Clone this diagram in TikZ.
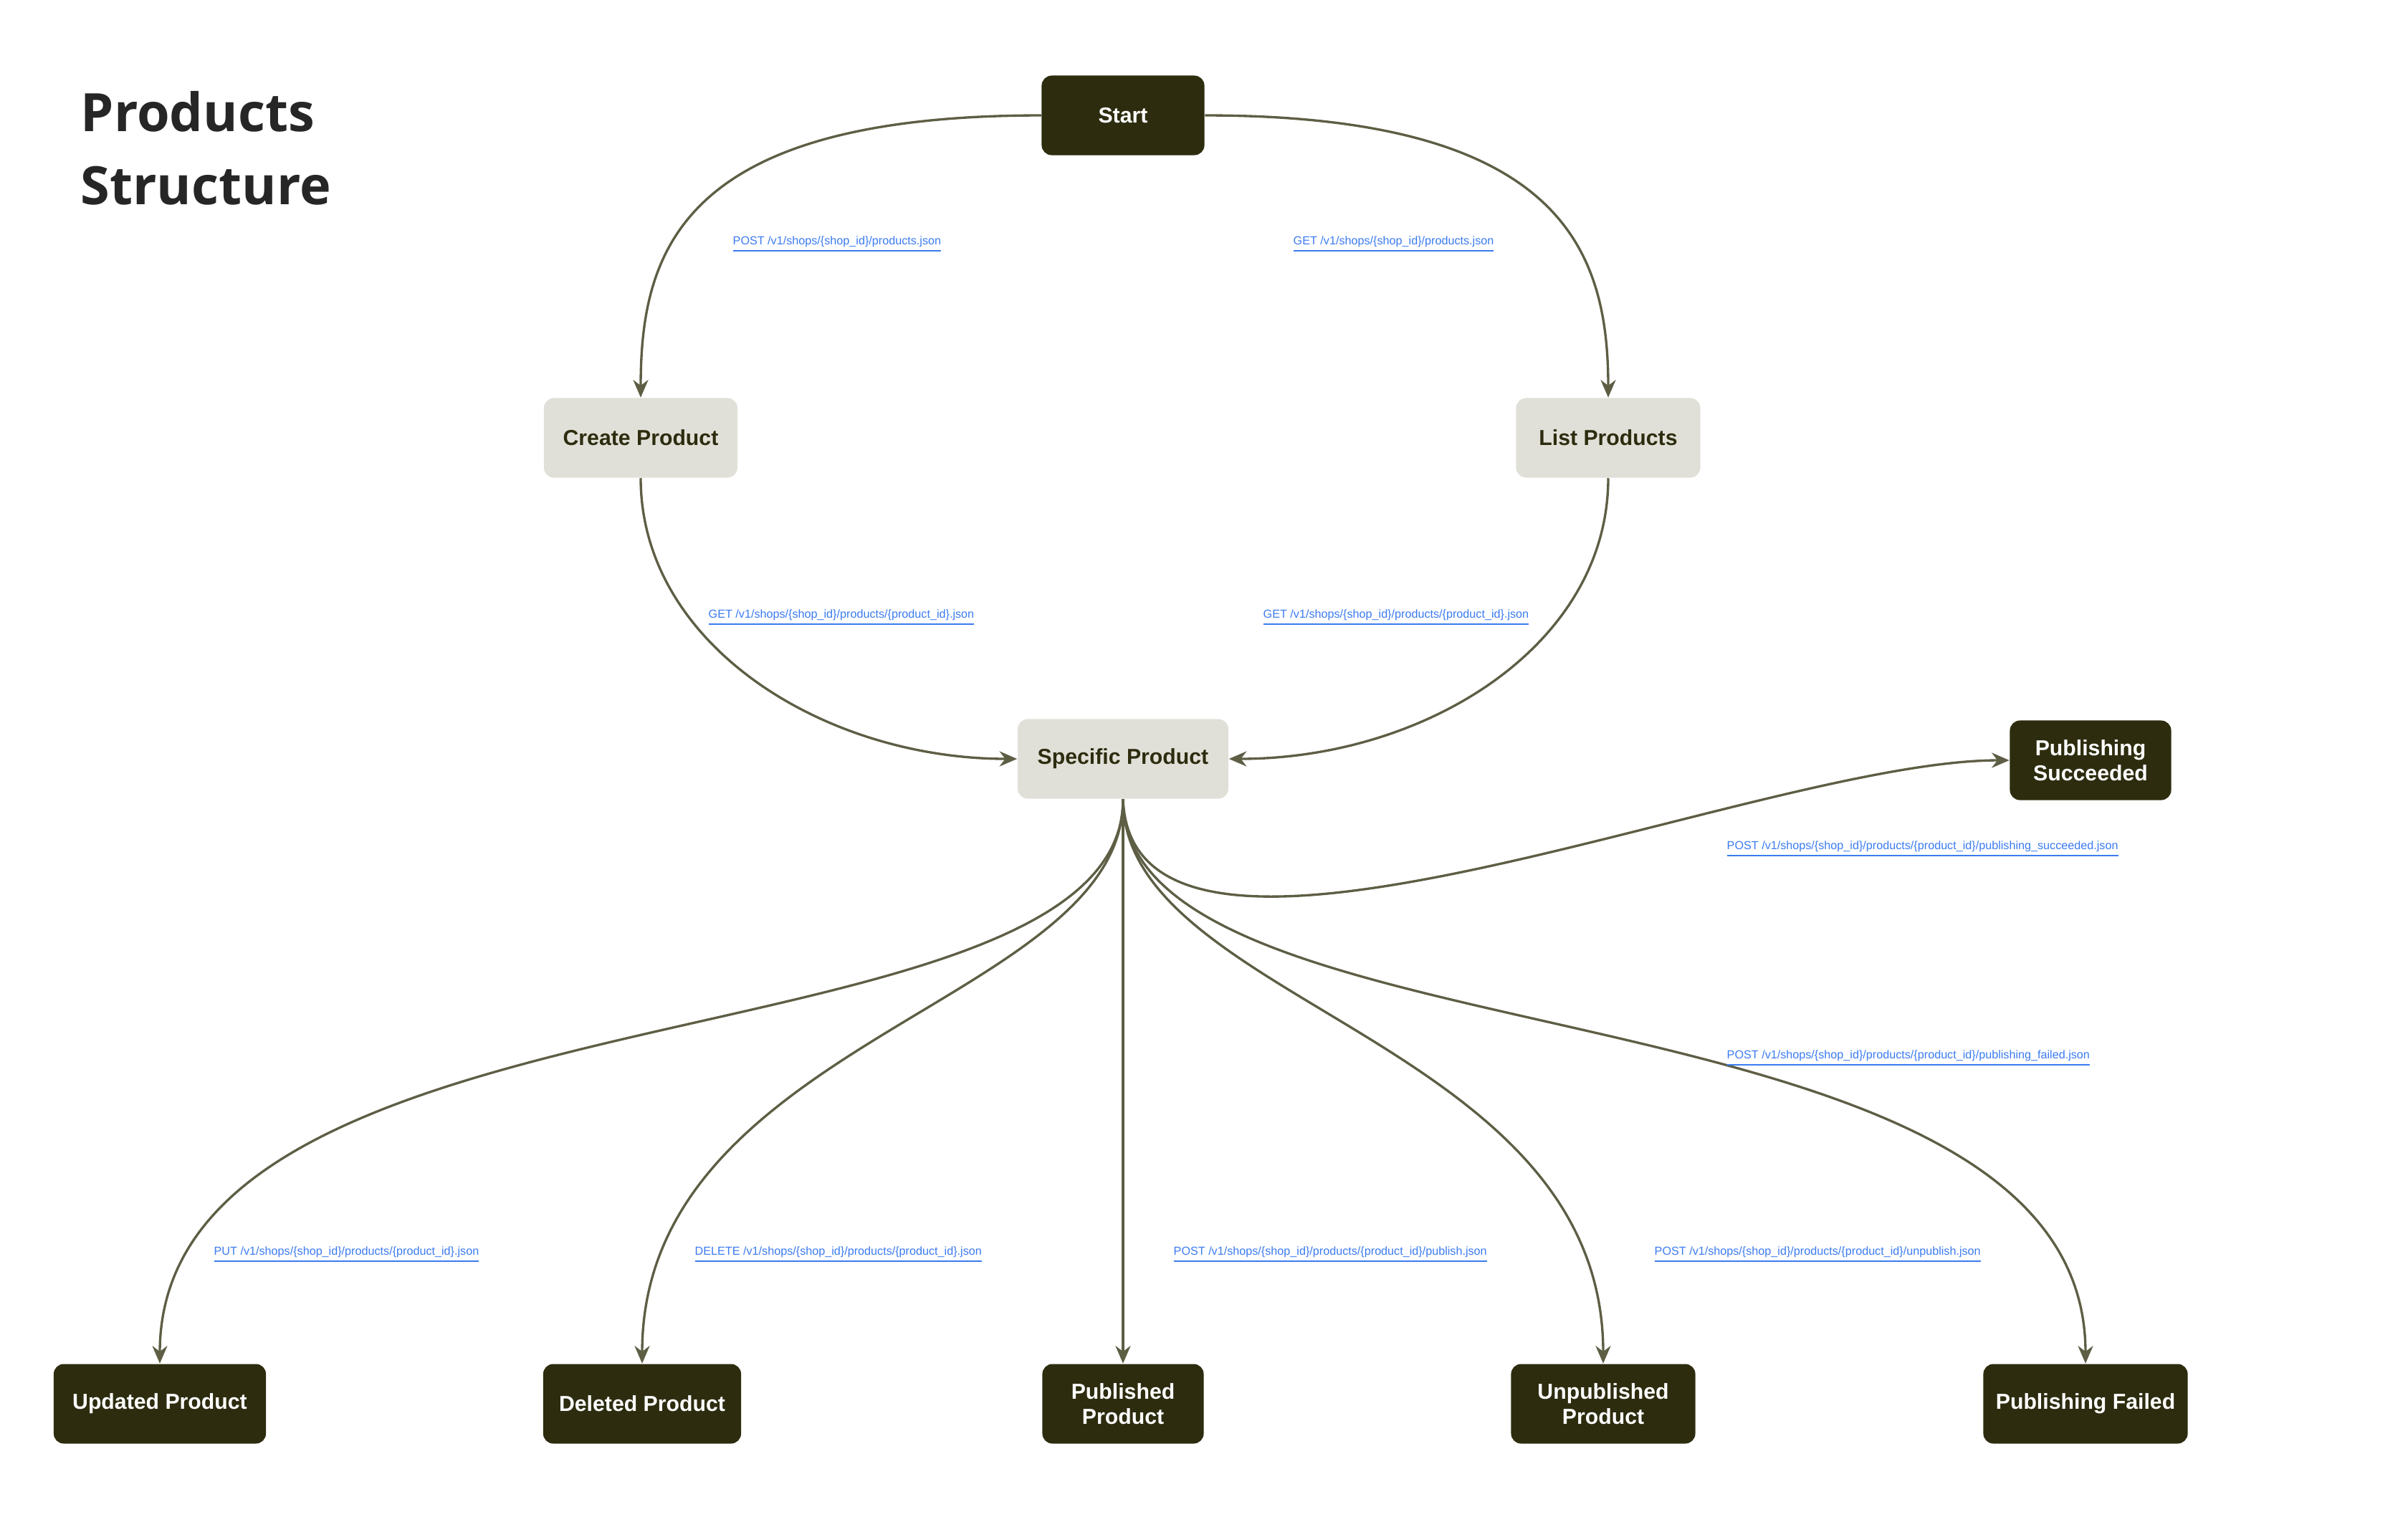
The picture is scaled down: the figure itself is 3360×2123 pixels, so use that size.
\documentclass[tikz,border=0pt]{standalone}
\usepackage{fontspec}
\setmainfont{Liberation Sans}
\newfontfamily\titlefont{Open Sans}
\usetikzlibrary{arrows.meta}
\definecolor{dark}{HTML}{2D2C0F}
\definecolor{light}{HTML}{E1E0D8}
\definecolor{edge}{HTML}{5E5E45}
\definecolor{link}{HTML}{3B7BF0}
\begin{document}
\begin{tikzpicture}[x=0.01cm,y=-0.01cm,
  box/.style={rounded corners=14pt*0.2845, minimum height=111*0.2845pt, font=\fontsize{8.6}{10}\selectfont\bfseries, align=center, inner sep=0pt},
  dk/.style={box, fill=dark, text=white},
  lt/.style={box, fill=light, text=dark},
  lab/.style={anchor=west, inner sep=0pt, text=link, font=\fontsize{4.6}{5}\selectfont},
  e/.style={draw=edge, line width=0.95pt, -{Stealth[length=7pt,width=6pt]}}]
\useasboundingbox (0,0) rectangle (3360,2123);
\node[anchor=west, inner sep=0pt, font=\titlefont\fontsize{21}{25}\selectfont\bfseries, text=black!85] (t1) at (112,156) {Products};
\node[anchor=west, inner sep=0pt, font=\titlefont\fontsize{21}{25}\selectfont\bfseries, text=black!85] (t2) at (112,259) {Structure};
\node[dk, minimum width=227*0.2845pt] (start) at (1567,161) {Start};
\node[lt, minimum width=270*0.2845pt] (create) at (894,611) {Create Product};
\node[lt, minimum width=257*0.2845pt] (list) at (2244,611) {List Products};
\node[lt, minimum width=294*0.2845pt] (spec) at (1567,1059) {Specific Product};
\node[dk, minimum width=225*0.2845pt] (succ) at (2917,1061) {Publishing\\Succeeded};
\node[dk, minimum width=296*0.2845pt] (upd) at (223,1959) {Updated Product};
\node[dk, minimum width=276*0.2845pt] (del) at (896,1959) {Deleted Product};
\node[dk, minimum width=225*0.2845pt] (pub) at (1567,1959) {Published\\Product};
\node[dk, minimum width=257*0.2845pt] (unp) at (2237,1959) {Unpublished\\Product};
\node[dk, minimum width=285*0.2845pt] (fail) at (2910,1959) {Publishing Failed};

\draw[e] (start.west) .. controls (950,161) and (894,350) .. (create.north);
\draw[e] (start.east) .. controls (2180,161) and (2244,350) .. (list.north);
\draw[e] (create.south) .. controls (894,900) and (1150,1059) .. (spec.west);
\draw[e] (list.south) .. controls (2244,900) and (1990,1059) .. (spec.east);
\draw[e] (spec.south) .. controls (1580,1450) and (2450,1061) .. (succ.west);
\draw[e] (spec.south) .. controls (1567,1500) and (223,1350) .. (upd.north);
\draw[e] (spec.south) .. controls (1567,1400) and (896,1450) .. (del.north);
\draw[e] (spec.south) -- (pub.north);
\draw[e] (spec.south) .. controls (1567,1400) and (2237,1450) .. (unp.north);
\draw[e] (spec.south) .. controls (1567,1500) and (2910,1350) .. (fail.north);

\node[lab] (l1) at (1022,341) {\underline{POST /v1/shops/\{shop\_id\}/products.json}};
\node[lab] (l2) at (1804,341) {\underline{GET /v1/shops/\{shop\_id\}/products.json}};
\node[lab] (l3) at (988,862) {\underline{GET /v1/shops/\{shop\_id\}/products/\{product\_id\}.json}};
\node[lab] (l4) at (1762,862) {\underline{GET /v1/shops/\{shop\_id\}/products/\{product\_id\}.json}};
\node[lab] (l5) at (2409,1185) {\underline{POST /v1/shops/\{shop\_id\}/products/\{product\_id\}/publishing\_succeeded.json}};
\node[lab] (l6) at (2409,1477) {\underline{POST /v1/shops/\{shop\_id\}/products/\{product\_id\}/publishing\_failed.json}};
\node[lab] (l7) at (298,1751) {\underline{PUT /v1/shops/\{shop\_id\}/products/\{product\_id\}.json}};
\node[lab] (l8) at (969,1751) {\underline{DELETE /v1/shops/\{shop\_id\}/products/\{product\_id\}.json}};
\node[lab] (l9) at (1637,1751) {\underline{POST /v1/shops/\{shop\_id\}/products/\{product\_id\}/publish.json}};
\node[lab] (l10) at (2308,1751) {\underline{POST /v1/shops/\{shop\_id\}/products/\{product\_id\}/unpublish.json}};
\end{tikzpicture}
\end{document}
